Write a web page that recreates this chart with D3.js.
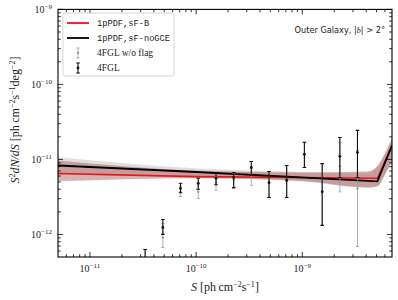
<!DOCTYPE html>
<html>
<head>
<meta charset="utf-8">
<script src="https://cdn.jsdelivr.net/npm/d3@7"></script>
<style>
  body { margin: 0; background: #fff; }
  svg { display: block; }
</style>
</head>
<body>
<div id="chart"></div>
<script>
// flux bins (1/6 decade apart)
var binS = [3.31e-11, 4.86e-11, 7.13e-11, 1.047e-10, 1.54e-10, 2.26e-10, 3.31e-10,
            4.86e-10, 7.13e-10, 1.047e-9, 1.54e-9, 2.26e-9, 3.31e-9];

// 4FGL (all sources)
var fglVal = [3.0e-13, 1.24e-12, 4.1e-12, 4.8e-12, 5.6e-12, 5.75e-12, 7.8e-12,
              4.9e-12, 5.25e-12, 1.17e-11, 3.7e-12, 1.1e-11, 1.24e-11];
var fglHi  = [6.3e-13, 1.58e-12, 4.8e-12, 5.6e-12, 6.7e-12, 6.7e-12, 9.4e-12,
              6.9e-12, 8.3e-12, 1.69e-11, 8.8e-12, 1.96e-11, 2.44e-11];
var fglLo  = [1.0e-13, 1.0e-12, 3.6e-12, 4.0e-12, 4.6e-12, 4.2e-12, 6.1e-12,
              3.1e-12, 3.1e-12, 7.8e-12, 1.32e-12, 5.75e-12, 5.75e-12];

// 4FGL w/o flag
var noflagVal = [3.0e-13, 9.1e-13, 3.7e-12, 3.7e-12, 4.9e-12, 5.4e-12, 6.1e-12,
                 4.9e-12, 5.25e-12, 1.17e-11, 3.7e-12, 8.1e-12, 4.1e-12];
var noflagHi  = [6.3e-13, 1.4e-12, 4.4e-12, 4.6e-12, 6.0e-12, 6.5e-12, 7.5e-12,
                 6.9e-12, 8.3e-12, 1.69e-11, 8.8e-12, 1.69e-11, 1.32e-11];
var noflagLo  = [1.0e-13, 6.7e-13, 3.2e-12, 3.0e-12, 3.9e-12, 4.1e-12, 4.5e-12,
                 3.1e-12, 3.1e-12, 7.8e-12, 1.32e-12, 3.7e-12, 6.9e-13];

// model curves (broken power law, S^2 dN/dS)
var modelS   = [5e-12, 1e-10, 5.1e-9, 7e-9];
var sfbMed   = [6.5e-12, 5.9e-12, 5.6e-12, 1.5e-11];
var nogceMed = [8.3e-12, 6.8e-12, 5.1e-12, 1.54e-11];

// posterior bands
var bandS    = [5e-12, 1e-10, 1e-9, 4.1e-9, 5.1e-9, 6e-9, 7e-9];
var sfbLo    = [5.1e-12, 5.6e-12, 5.1e-12, 4.2e-12, 4.4e-12, 6.3e-12, 9.4e-12];
var sfbHi    = [9.7e-12, 7.1e-12, 6.7e-12, 6.9e-12, 8.1e-12, 1.17e-11, 1.85e-11];
var nogceLo  = [6.3e-12, 5.8e-12, 5.2e-12, 4.3e-12, 4.4e-12, 6.2e-12, 1.0e-11];
var nogceHi  = [1.07e-11, 7.6e-12, 6.8e-12, 6.6e-12, 8.1e-12, 1.25e-11, 1.96e-11];

var xDecades = [-11, -10, -9];
var yDecades = [-12, -11, -10, -9];

var W = 398, H = 300;
var m = { left: 58, right: 6, top: 9.4, bottom: 43 };

var svg = d3.select('#chart').append('svg')
  .attr('width', W).attr('height', H);

var x = d3.scaleLog().domain([5e-12, 7e-9]).range([m.left, W - m.right]);
var y = d3.scaleLog().domain([5e-13, 1e-9]).range([H - m.bottom, m.top]);

svg.append('defs').append('clipPath').attr('id', 'plot')
  .append('rect')
    .attr('x', m.left).attr('y', m.top)
    .attr('width', W - m.left - m.right).attr('height', H - m.top - m.bottom);

var plot = svg.append('g').attr('clip-path', 'url(#plot)');

function bandArea(lo, hi) {
  return d3.area()
    .x(function (d, i) { return x(bandS[i]); })
    .y0(function (d, i) { return y(lo[i]); })
    .y1(function (d, i) { return y(hi[i]); })
    .curve(d3.curveMonotoneX)(bandS);
}

plot.append('path').attr('d', bandArea(nogceLo, nogceHi))
  .attr('fill', '#8c8c8c').attr('opacity', 0.28);
plot.append('path').attr('d', bandArea(sfbLo, sfbHi))
  .attr('fill', '#9a2a2a').attr('opacity', 0.36);

var line = d3.line()
  .x(function (d, i) { return x(modelS[i]); })
  .y(function (d) { return y(d); });

plot.append('path').attr('d', line(sfbMed))
  .attr('fill', 'none').attr('stroke', '#e8141c').attr('stroke-width', 1.6);
plot.append('path').attr('d', line(nogceMed))
  .attr('fill', 'none').attr('stroke', '#000').attr('stroke-width', 1.8);

// error bars
function errorBars(vals, lo, hi, color, lw, cap, r) {
  var g = plot.append('g');
  binS.forEach(function (s, i) {
    var cx = x(s);
    g.append('line')
      .attr('x1', cx).attr('x2', cx)
      .attr('y1', y(lo[i])).attr('y2', y(hi[i]))
      .attr('stroke', color).attr('stroke-width', lw);
    [lo[i], hi[i]].forEach(function (v) {
      g.append('line')
        .attr('x1', cx - cap).attr('x2', cx + cap)
        .attr('y1', y(v)).attr('y2', y(v))
        .attr('stroke', color).attr('stroke-width', lw);
    });
    g.append('circle').attr('cx', cx).attr('cy', y(vals[i]))
      .attr('r', r).attr('fill', color);
  });
}
errorBars(noflagVal, noflagLo, noflagHi, '#9a9a9a', 0.8, 1.5, 1.2);
errorBars(fglVal, fglLo, fglHi, '#111', 1.1, 1.8, 1.4);

// axes frame + ticks (in, on all sides)
var x0 = m.left, x1 = W - m.right, y0 = H - m.bottom, y1 = m.top;
var axes = svg.append('g');

function minorVals(decades, dom) {
  var out = [];
  for (var e = decades[0] - 1; e <= decades[decades.length - 1] + 1; e++) {
    for (var k = 2; k <= 9; k++) {
      var v = k * Math.pow(10, e);
      if (v > dom[0] && v < dom[1]) out.push(v);
    }
  }
  return out;
}

var xMinor = minorVals(xDecades, x.domain());
var yMinor = minorVals(yDecades, y.domain());

function xTick(v, len) {
  var px = x(v);
  axes.append('line').attr('x1', px).attr('x2', px).attr('y1', y0).attr('y2', y0 - len)
    .attr('stroke', '#000').attr('stroke-width', 0.8);
  axes.append('line').attr('x1', px).attr('x2', px).attr('y1', y1).attr('y2', y1 + len)
    .attr('stroke', '#000').attr('stroke-width', 0.8);
}
function yTick(v, len) {
  var py = y(v);
  axes.append('line').attr('x1', x0).attr('x2', x0 + len).attr('y1', py).attr('y2', py)
    .attr('stroke', '#000').attr('stroke-width', 0.8);
  axes.append('line').attr('x1', x1).attr('x2', x1 - len).attr('y1', py).attr('y2', py)
    .attr('stroke', '#000').attr('stroke-width', 0.8);
}
xMinor.forEach(function (v) { xTick(v, 2.8); });
yMinor.forEach(function (v) { yTick(v, 2.8); });
xDecades.forEach(function (e) { xTick(Math.pow(10, e), 5); });
yDecades.forEach(function (e) { yTick(Math.pow(10, e), 5); });

axes.append('rect')
  .attr('x', x0).attr('y', y1).attr('width', x1 - x0).attr('height', y0 - y1)
  .attr('fill', 'none').attr('stroke', '#000').attr('stroke-width', 1.1);

var serif = '"Liberation Serif", "DejaVu Serif", serif';

function powLabel(sel, e) {
  sel.append('tspan').text('10');
  sel.append('tspan').attr('dy', -4).attr('font-size', 7).text('\u2212' + Math.abs(e));
}

xDecades.forEach(function (e) {
  var t = svg.append('text')
    .attr('x', x(Math.pow(10, e))).attr('y', 272)
    .attr('text-anchor', 'middle')
    .attr('font-family', serif).attr('font-size', 10).attr('fill', '#222');
  powLabel(t, e);
});
yDecades.forEach(function (e) {
  var t = svg.append('text')
    .attr('x', 52).attr('y', y(Math.pow(10, e)) + 3.5)
    .attr('text-anchor', 'end')
    .attr('font-family', serif).attr('font-size', 10).attr('fill', '#222');
  powLabel(t, e);
});

// axis labels
var xl = svg.append('text')
  .attr('x', 225).attr('y', 291).attr('text-anchor', 'middle')
  .attr('font-family', serif).attr('font-size', 12).attr('fill', '#222');
xl.append('tspan').attr('font-style', 'italic').text('S');
xl.append('tspan').text(' [ph\u2009cm');
xl.append('tspan').attr('dy', -4.5).attr('font-size', 8).text('\u22122');
xl.append('tspan').attr('dy', 4.5).text('s');
xl.append('tspan').attr('dy', -4.5).attr('font-size', 8).text('\u22121');
xl.append('tspan').attr('dy', 4.5).text(']');

var yl = svg.append('text')
  .attr('transform', 'translate(19,' + 120 + ') rotate(-90)')
  .attr('text-anchor', 'middle')
  .attr('font-family', serif).attr('font-size', 12).attr('fill', '#222');
yl.append('tspan').attr('font-style', 'italic').text('S');
yl.append('tspan').attr('dy', -4.5).attr('font-size', 8).text('2');
yl.append('tspan').attr('dy', 4.5).attr('font-style', 'italic').text('dN/dS');
yl.append('tspan').text(' [ph\u2009cm');
yl.append('tspan').attr('dy', -4.5).attr('font-size', 8).text('\u22122');
yl.append('tspan').attr('dy', 4.5).text('s');
yl.append('tspan').attr('dy', -4.5).attr('font-size', 8).text('\u22121');
yl.append('tspan').attr('dy', 4.5).text('deg');
yl.append('tspan').attr('dy', -4.5).attr('font-size', 8).text('\u22122');
yl.append('tspan').attr('dy', 4.5).text(']');

// region annotation
var ann = svg.append('text')
  .attr('x', 385).attr('y', 33).attr('text-anchor', 'end')
  .attr('font-family', '"DejaVu Sans", sans-serif').attr('font-size', 8.2).attr('fill', '#222');
ann.append('tspan').text('Outer Galaxy, |');
ann.append('tspan').attr('font-style', 'italic').attr('font-family', serif).text('b');
ann.append('tspan').text('| > 2\u00b0');

// legend
var leg = svg.append('g');
leg.append('rect')
  .attr('x', 63).attr('y', 13).attr('width', 111).attr('height', 63).attr('rx', 2.5)
  .attr('fill', '#fff').attr('fill-opacity', 0.85)
  .attr('stroke', '#cccccc').attr('stroke-width', 0.8);

var mono = '"Liberation Mono", "DejaVu Sans Mono", monospace';
leg.append('line').attr('x1', 67).attr('x2', 89).attr('y1', 23).attr('y2', 23)
  .attr('stroke', '#e8141c').attr('stroke-width', 1.8);
leg.append('text').attr('x', 97).attr('y', 26).attr('font-family', mono)
  .attr('font-size', 8.7).attr('fill', '#222').text('1pPDF,sF-B');
leg.append('line').attr('x1', 67).attr('x2', 89).attr('y1', 38).attr('y2', 38)
  .attr('stroke', '#000').attr('stroke-width', 1.8);
leg.append('text').attr('x', 97).attr('y', 41).attr('font-family', mono)
  .attr('font-size', 8.7).attr('fill', '#222').text('1pPDF,sF-noGCE');

function legErr(cy, color, lw, cap, r) {
  leg.append('line').attr('x1', 78).attr('x2', 78).attr('y1', cy - 5).attr('y2', cy + 5)
    .attr('stroke', color).attr('stroke-width', lw);
  [cy - 5, cy + 5].forEach(function (v) {
    leg.append('line').attr('x1', 78 - cap).attr('x2', 78 + cap).attr('y1', v).attr('y2', v)
      .attr('stroke', color).attr('stroke-width', lw);
  });
  leg.append('circle').attr('cx', 78).attr('cy', cy).attr('r', r).attr('fill', color);
}
legErr(53, '#9a9a9a', 0.8, 1.5, 1.2);
legErr(68, '#111', 1.1, 1.8, 1.4);
leg.append('text').attr('x', 97).attr('y', 56).attr('font-family', serif)
  .attr('font-size', 9.5).attr('fill', '#222').text('4FGL w/o flag');
leg.append('text').attr('x', 97).attr('y', 71).attr('font-family', serif)
  .attr('font-size', 9.5).attr('fill', '#222').text('4FGL');
</script>
</body>
</html>
